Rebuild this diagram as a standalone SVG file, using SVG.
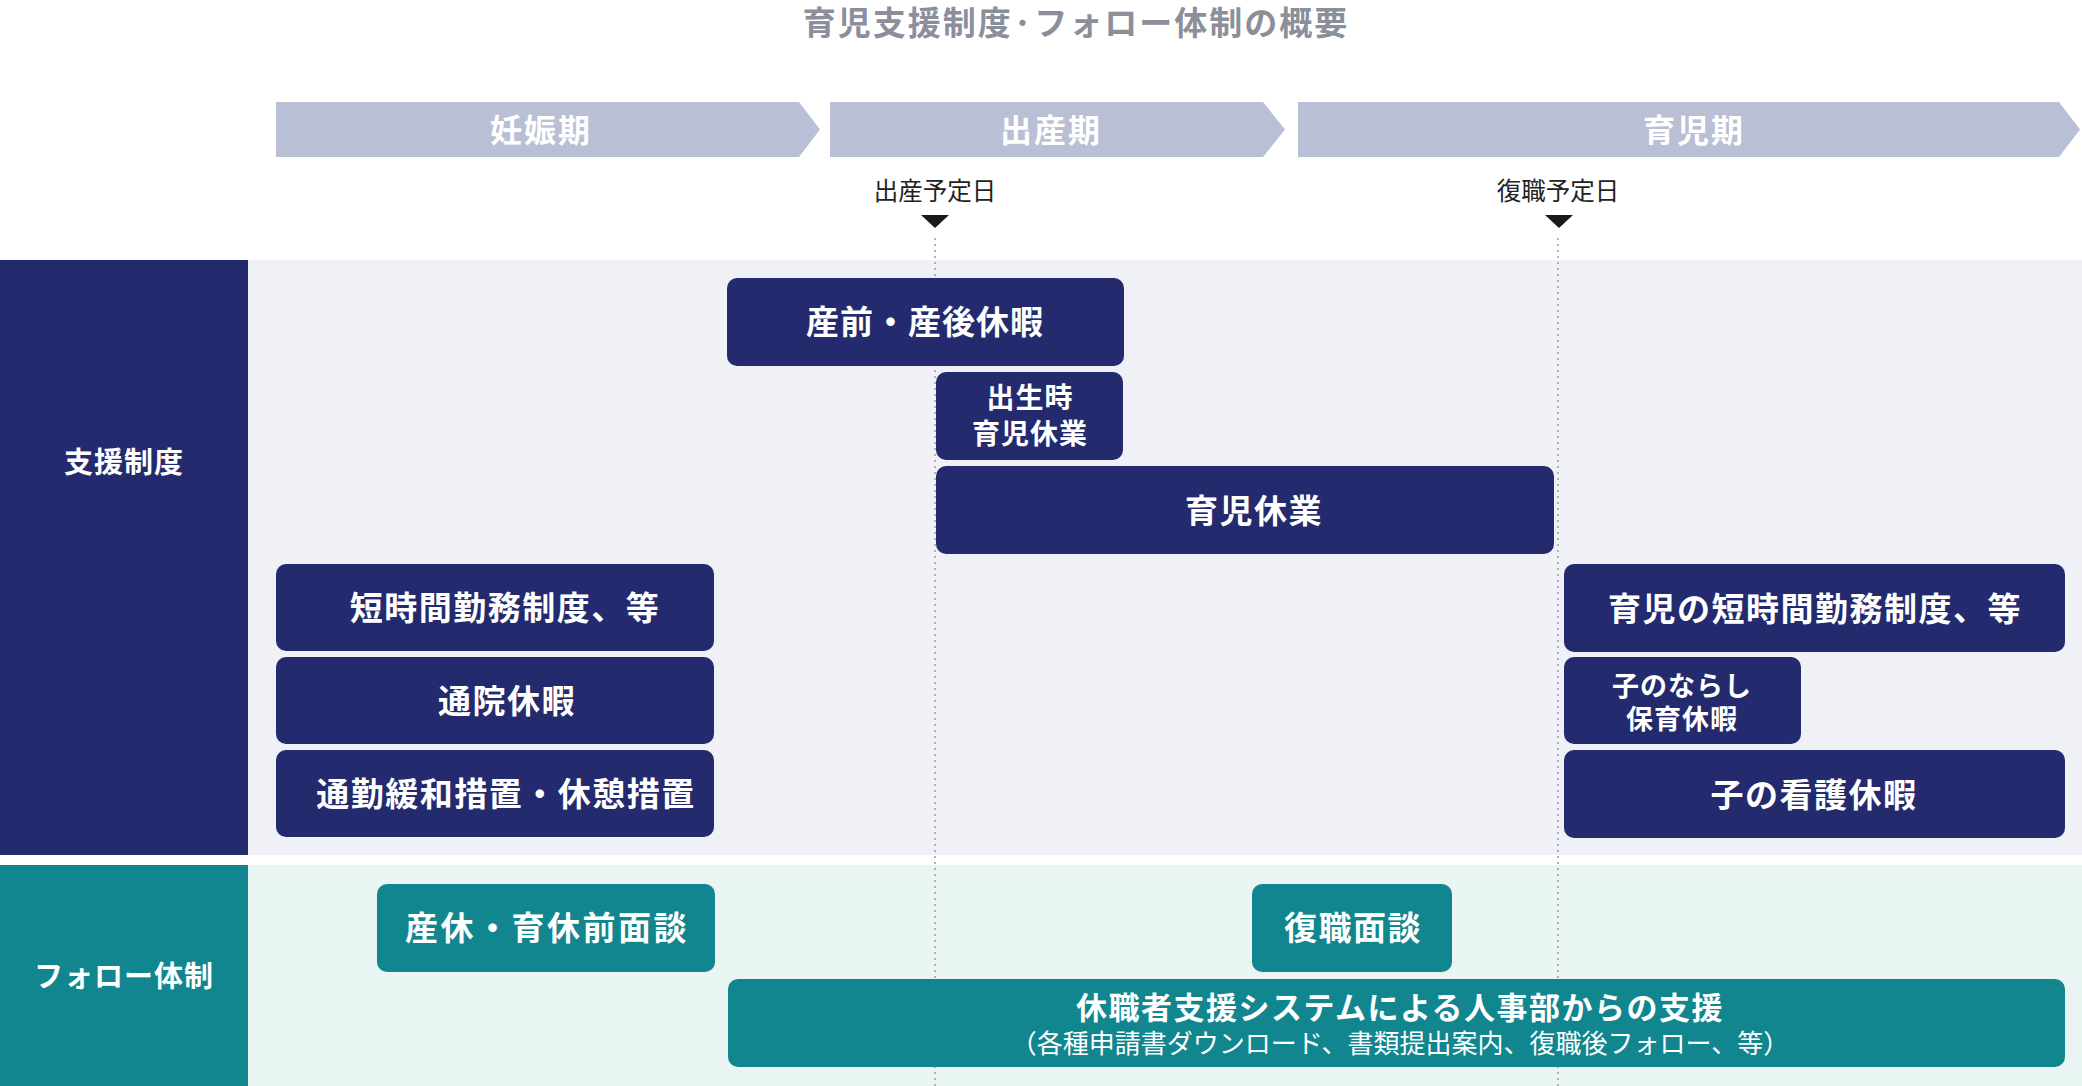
<svg xmlns="http://www.w3.org/2000/svg" width="2082" height="1086" viewBox="0 0 2082 1086">
<defs>
<style>
text{font-family:"Noto Sans CJK JP","Noto Sans",sans-serif;text-anchor:middle;dominant-baseline:central}
.b{font-weight:700;fill:#fff}
.nav{fill:#232b6e}
.teal{fill:#12868f}
.ban{fill:#b9bfd4}
.lg{font-size:33px;letter-spacing:1.5px}
.sm{font-size:28px;letter-spacing:1px}
.dot{stroke:#9a9a9a;stroke-width:1.5;stroke-dasharray:2 4;fill:none}
.date{font-size:24.5px;fill:#222;font-weight:400}
</style>
</defs>
<rect width="2082" height="1086" fill="#fff"/>
<text x="1076" y="21" style="font-size:33px;font-weight:700;fill:#8b8e9b;letter-spacing:2px">育児支援制度·フォロー体制の概要</text>

<g id="phases">
<g id="phase-ninshin"><polygon class="ban" points="276,102 799,102 820,129.5 799,157 276,157"/><text class="b" x="541" y="128" style="font-size:32px;letter-spacing:2px">妊娠期</text></g>
<g id="phase-shussan"><polygon class="ban" points="830,102 1263,102 1285,129.5 1263,157 830,157"/><text class="b" x="1051" y="128" style="font-size:32px;letter-spacing:2px">出産期</text></g>
<g id="phase-ikuji"><polygon class="ban" points="1298,102 2059,102 2080,129.5 2059,157 1298,157"/><text class="b" x="1694" y="128" style="font-size:32px;letter-spacing:2px">育児期</text></g>
</g>

<g id="band-support">
<rect x="248" y="260" width="1834" height="595" fill="#eff1f7"/>
<rect class="nav" x="0" y="260" width="248" height="595"/>
<text class="b" x="124" y="460" style="font-size:29px;letter-spacing:1px">支援制度</text>
</g>
<g id="band-follow">
<rect x="248" y="865" width="1834" height="221" fill="#e8f5f2"/>
<rect class="teal" x="0" y="865" width="248" height="221"/>
<text class="b" x="124" y="974" style="font-size:29px;letter-spacing:1px">フォロー体制</text>
</g>

<g id="connectors">
<g id="marker-due">
<text class="date" x="935" y="189">出産予定日</text>
<polygon points="921,215 949,215 935,228" fill="#1a1a1a"/>
<line class="dot" x1="935" y1="238" x2="935" y2="1086"/>
</g>
<g id="marker-return">
<text class="date" x="1558" y="189">復職予定日</text>
<polygon points="1545,215 1573,215 1559,228" fill="#1a1a1a"/>
<line class="dot" x1="1558" y1="238" x2="1558" y2="1086"/>
</g>
</g>

<g id="n-sanzengo"><rect class="nav" x="727" y="278" width="397" height="88" rx="10"/><text class="b" x="925" y="320" style="font-size:33px;letter-spacing:1px">産前・産後休暇</text></g>
<g id="n-shusseiji"><rect class="nav" x="936" y="372" width="187" height="88" rx="10"/><text class="b sm" x="1030" y="396">出生時</text><text class="b sm" x="1030" y="432">育児休業</text></g>
<g id="n-ikuji"><rect class="nav" x="936" y="466" width="618" height="88" rx="10"/><text class="b lg" x="1254" y="509">育児休業</text></g>

<g id="n-tanjikan"><rect class="nav" x="276" y="564" width="438" height="87" rx="10"/><text class="b lg" x="505" y="606">短時間勤務制度、等</text></g>
<g id="n-tsuin"><rect class="nav" x="276" y="657" width="438" height="87" rx="10"/><text class="b lg" x="507" y="699">通院休暇</text></g>
<g id="n-tsukin"><rect class="nav" x="276" y="750" width="438" height="87" rx="10"/><text class="b lg" x="506" y="792">通勤緩和措置・休憩措置</text></g>

<g id="n-ikuji-tanjikan"><rect class="nav" x="1564" y="564" width="501" height="88" rx="10"/><text class="b lg" x="1815" y="607">育児の短時間勤務制度、等</text></g>
<g id="n-narashi"><rect class="nav" x="1564" y="657" width="237" height="87" rx="10"/><text class="b" x="1682" y="684" style="font-size:27px;letter-spacing:1px">子のならし</text><text class="b" x="1682" y="717" style="font-size:27px;letter-spacing:1px">保育休暇</text></g>
<g id="n-kango"><rect class="nav" x="1564" y="750" width="501" height="88" rx="10"/><text class="b lg" x="1814" y="793">子の看護休暇</text></g>

<g id="n-mendan1"><rect class="teal" x="377" y="884" width="338" height="88" rx="10"/><text class="b" x="547" y="926" style="font-size:33px;letter-spacing:2.5px">産休・育休前面談</text></g>
<g id="n-mendan2"><rect class="teal" x="1252" y="884" width="200" height="88" rx="10"/><text class="b lg" x="1353" y="926">復職面談</text></g>
<g id="n-system"><rect class="teal" x="728" y="979" width="1337" height="88" rx="10"/><text class="b" x="1400" y="1005" style="font-size:31px;letter-spacing:1.5px">休職者支援システムによる人事部からの支援</text><text x="1400" y="1041" style="font-size:26px;fill:#fff">（各種申請書ダウンロード、書類提出案内、復職後フォロー、等）</text></g>
</svg>
